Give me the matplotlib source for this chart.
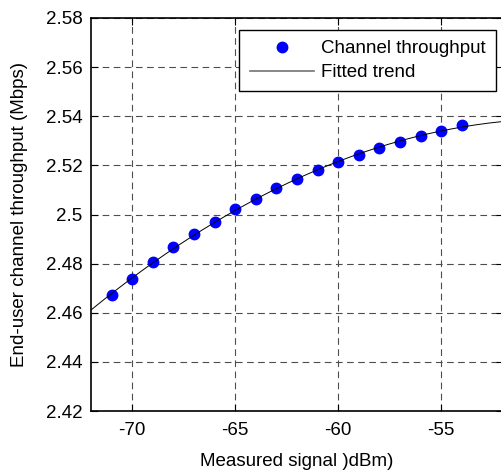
import numpy as np
import matplotlib
matplotlib.use("Agg")
import matplotlib.pyplot as plt

plt.rcParams['font.family'] = ['Liberation Sans', 'DejaVu Sans']
plt.rcParams['axes.unicode_minus'] = False

signal_dbm = [-71, -70, -69, -68, -67, -66, -65, -64, -63, -62, -61, -60,
              -59, -58, -57, -56, -55, -54]
throughput = [2.4672, 2.4736, 2.4807, 2.4866, 2.4922, 2.4969, 2.5021, 2.5063,
              2.5107, 2.5144, 2.5181, 2.5212, 2.5241, 2.5272, 2.5296, 2.5321,
              2.5340, 2.5364]
x_ticks = [-70, -65, -60, -55]
y_ticks = [2.42, 2.44, 2.46, 2.48, 2.50, 2.52, 2.54, 2.56, 2.58]
y_tick_labels = ['2.42', '2.44', '2.46', '2.48', '2.5', '2.52', '2.54', '2.56', '2.58']

# fitted trend (quadratic least-squares fit of the measured points)
coef = np.polyfit(signal_dbm, throughput, 2)
xf = np.linspace(-72, -52, 200)
yf = np.polyval(coef, xf)

FS = 13.5
fig = plt.figure(figsize=(5.02, 4.72), dpi=100)
ax = fig.add_axes([91/502, 1 - 411/472, 1 - 91/502 + 0.002, (411 - 18)/472])

ax.plot(signal_dbm, throughput, 'o', color='#0000FF', markersize=7.5,
        label='Channel throughput', zorder=3)
ax.plot(xf, yf, '-', color='black', linewidth=0.7, label='Fitted trend', zorder=4)

ax.set_xlim(-72, -52)
ax.set_ylim(2.42, 2.58)
ax.set_xticks(x_ticks)
ax.set_yticks(y_ticks)
ax.set_yticklabels(y_tick_labels)
ax.tick_params(direction='in', top=True, right=True, length=5, width=0.8,
               labelsize=FS, colors='black')
ax.tick_params(axis='x', pad=8)
ax.tick_params(axis='y', pad=6)
ax.grid(True, color='0.3', linestyle=(0, (6, 4)), linewidth=0.8)
for s in ax.spines.values():
    s.set_linewidth(1.2)
    s.set_color('black')

ax.set_xlabel('Measured signal )dBm)', fontsize=FS, labelpad=10)
ax.set_ylabel('End-user channel throughput (Mbps)', fontsize=FS, labelpad=13)

leg = ax.legend(loc='upper right', bbox_to_anchor=(0.983, 0.9695),
                bbox_transform=ax.transAxes, borderaxespad=0.0,
                fontsize=FS, frameon=True, fancybox=False,
                edgecolor='black', framealpha=1,
                handlelength=3.4, handletextpad=0.4, labelspacing=0.35,
                borderpad=0.55)
leg.get_frame().set_linewidth(1.0)
leg.get_lines()[1].set_color('0.45')
leg.get_lines()[1].set_linewidth(1.2)

fig.savefig('out.png', dpi=100)
